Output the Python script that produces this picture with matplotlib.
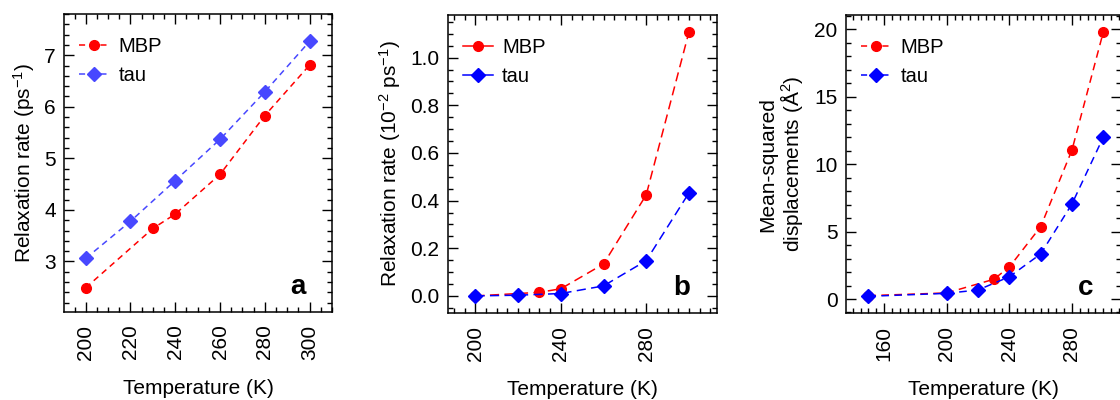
import numpy as np
import matplotlib
matplotlib.use('Agg')
import matplotlib.pyplot as plt
from matplotlib.lines import Line2D
from matplotlib.ticker import MultipleLocator, FormatStrFormatter

plt.rcParams['font.family'] = ['Liberation Sans', 'DejaVu Sans']
plt.rcParams['mathtext.fontset'] = 'custom'
plt.rcParams['mathtext.rm'] = 'Liberation Sans'
plt.rcParams['mathtext.it'] = 'Liberation Sans:italic'
plt.rcParams['mathtext.bf'] = 'Liberation Sans:bold'

# panel a: relaxation rate (ps^-1)
a_mbp_T = [200, 230, 240, 260, 280, 300]
a_mbp = [2.49, 3.64, 3.92, 4.69, 5.83, 6.81]
a_tau_T = [200, 220, 240, 260, 280, 300]
a_tau = [3.06, 3.78, 4.57, 5.37, 6.29, 7.27]

# panel b: relaxation rate (10^-2 ps^-1)
b_mbp_T = [200, 230, 240, 260, 280, 300]
b_mbp = [0.0, 0.015, 0.03, 0.134, 0.424, 1.107]
b_tau_T = [200, 220, 240, 260, 280, 300]
b_tau = [0.0, 0.003, 0.01, 0.042, 0.148, 0.432]

# panel c: mean-squared displacements (A^2)
c_mbp_T = [150, 200, 230, 240, 260, 280, 300]
c_mbp = [0.25, 0.45, 1.46, 2.37, 5.36, 11.05, 19.8]
c_tau_T = [150, 200, 220, 240, 260, 280, 300]
c_tau = [0.2, 0.42, 0.67, 1.65, 3.34, 7.05, 12.0]

RED = '#ff0000'
BLUE = '#0000ff'
LIGHTBLUE = '#4848ff'
FS = 15

fig = plt.figure(figsize=(11.2, 4.0), dpi=100)
ax_a = fig.add_axes([64/1120, 88/400, 268/1120, 298/400])
ax_b = fig.add_axes([447.7/1120, 86.7/400, 269.6/1120, 298.3/400])
ax_c = fig.add_axes([846/1120, 86.7/400, 275/1120, 298.3/400])


def style(ax, xmaj, xmin, ymaj, ymin):
    ax.xaxis.set_major_locator(MultipleLocator(xmaj))
    ax.xaxis.set_minor_locator(MultipleLocator(xmin))
    ax.yaxis.set_major_locator(MultipleLocator(ymaj))
    ax.yaxis.set_minor_locator(MultipleLocator(ymin))
    ax.tick_params(which='both', direction='in', top=True, right=True,
                   width=1.0, labelsize=FS)
    ax.tick_params(which='major', length=7.5)
    ax.tick_params(which='minor', length=3.8)
    ax.tick_params(axis='x', labelrotation=90, pad=9)
    ax.tick_params(axis='y', pad=6)
    for s in ax.spines.values():
        s.set_linewidth(1.1)
    ax.set_xlabel('Temperature (K)', fontsize=FS, labelpad=14)


def series(ax, T, v, marker, color, ms, dash=(4, 3)):
    ax.plot(T, v, linestyle=(0, dash), lw=1.1, color=color,
            marker=marker, ms=ms, mec=color, mfc=color)


def legend(ax, blue, dashed):
    ls = (0, (4, 3)) if dashed else '-'
    h = [Line2D([], [], color=RED, ls=ls, lw=1.1, marker='o', ms=7),
         Line2D([], [], color=blue, ls=ls, lw=1.1, marker='D', ms=7)]
    ax.legend(h, ['MBP', 'tau'], loc='upper left', frameon=False,
              bbox_to_anchor=(0.026, 0.95), borderaxespad=0,
              fontsize=14.5, handlelength=1.5, handletextpad=0.45,
              labelspacing=0.5)


def tag(ax, s):
    ax.text(0.9, 0.04, s, transform=ax.transAxes, ha='right', va='bottom',
            fontsize=20, fontweight='bold')


# a
series(ax_a, a_mbp_T, a_mbp, 'o', RED, 7)
series(ax_a, a_tau_T, a_tau, 'D', LIGHTBLUE, 7)
ax_a.set_xlim(190.3, 310)
ax_a.set_ylim(2.02, 7.8)
style(ax_a, 20, 5, 1, 0.2)
ax_a.set_ylabel('Relaxation rate (ps$^{-1}$)', fontsize=FS, labelpad=5)
legend(ax_a, LIGHTBLUE, True)
tag(ax_a, 'a')

# b
series(ax_b, b_mbp_T, b_mbp, 'o', RED, 7, dash=(6, 3.5))
series(ax_b, b_tau_T, b_tau, 'D', BLUE, 7, dash=(6, 3.5))
ax_b.set_xlim(187, 313.3)
ax_b.set_ylim(-0.073, 1.179)
style(ax_b, 40, 5, 0.2, 0.05)
ax_b.yaxis.set_major_formatter(FormatStrFormatter('%.1f'))
ax_b.set_ylabel('Relaxation rate (10$^{-2}$ ps$^{-1}$)', fontsize=FS, labelpad=5)
legend(ax_b, BLUE, False)
tag(ax_b, 'b')

# c
series(ax_c, c_mbp_T, c_mbp, 'o', RED, 7, dash=(5, 3.5))
series(ax_c, c_tau_T, c_tau, 'D', BLUE, 7, dash=(5, 3.5))
ax_c.set_xlim(135.7, 311.3)
ax_c.set_ylim(-1.06, 21.06)
style(ax_c, 40, 5, 5, 1)
ax_c.set_ylabel('Mean-squared\ndisplacements (Å$^2$)', fontsize=FS, labelpad=7,
                linespacing=1.0)
legend(ax_c, BLUE, True)
tag(ax_c, 'c')

fig.savefig('out.png', dpi=100)
plt.close('all')
